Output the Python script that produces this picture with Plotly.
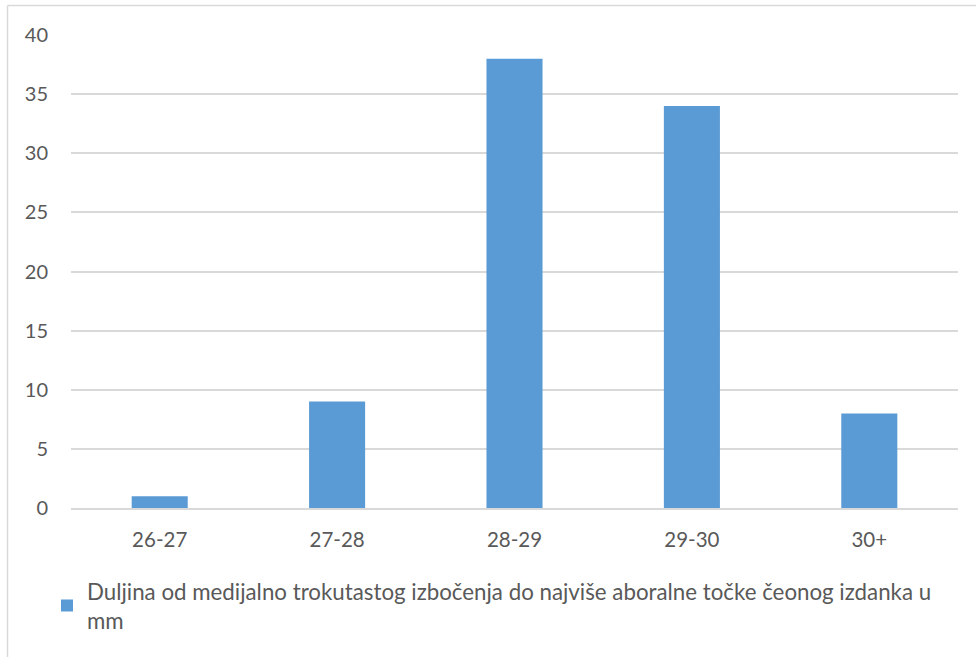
import plotly.graph_objects as go

categories = ["26-27", "27-28", "28-29", "29-30", "30+"]
values = [1, 9, 38, 34, 8]
series_name = "Duljina od medijalno trokutastog izbočenja do najviše aboralne točke čeonog izdanka u<br>mm"
y_ticks = [0, 5, 10, 15, 20, 25, 30, 35, 40]

FONT = "Lato, 'Open Sans', sans-serif"
TXT = "#595959"
BORDER = "#d9d9d9"

L, R, T, B = 71, 18, 35, 149
PW, PH = 976 - L - R, 657 - T - B

fig = go.Figure()
fig.add_trace(go.Bar(
    x=categories, y=values, name=series_name,
    marker=dict(color="#5b9bd5", line=dict(width=0)),
    showlegend=True,
))

bx = (7.5 - L) / PW
by = (PH + T - 5.5) / PH
fig.update_layout(
    template="none",
    width=976, height=657,
    margin=dict(l=L, r=R, t=T, b=B, autoexpand=False),
    paper_bgcolor="white", plot_bgcolor="white",
    font=dict(family=FONT, size=20, color=TXT),
    bargap=0.684,
    xaxis=dict(showgrid=False, showline=True, linecolor=BORDER, linewidth=1.5,
               ticks="", tickfont=dict(size=20.5, color=TXT), ticklabelstandoff=13,
               automargin=False),
    yaxis=dict(range=[0, 40], tickvals=y_ticks, showgrid=True, gridcolor=BORDER,
               gridwidth=1.5, zeroline=False, showline=False, ticks="",
               tickfont=dict(size=20, color=TXT), ticklabelstandoff=22,
               automargin=False),
    legend=dict(x=(47 - L) / PW, y=-(62 / PH), xanchor="left", yanchor="top",
                font=dict(size=22.3, color=TXT), itemwidth=30, tracegroupgap=0,
                bgcolor="rgba(0,0,0,0)"),
    shapes=[
        dict(type="line", xref="paper", yref="paper", x0=bx, x1=(980 - L) / PW, y0=by, y1=by,
             line=dict(color=BORDER, width=1.5), layer="below"),
        dict(type="line", xref="paper", yref="paper", x0=bx, x1=bx, y0=by, y1=-(670 - T - PH) / PH,
             line=dict(color=BORDER, width=1.5), layer="below"),
    ],
)

fig.write_html(
    "out.html",
    config={"displayModeBar": False},
    post_script="document.body.style.margin='0';document.body.style.overflow='hidden';",
)
